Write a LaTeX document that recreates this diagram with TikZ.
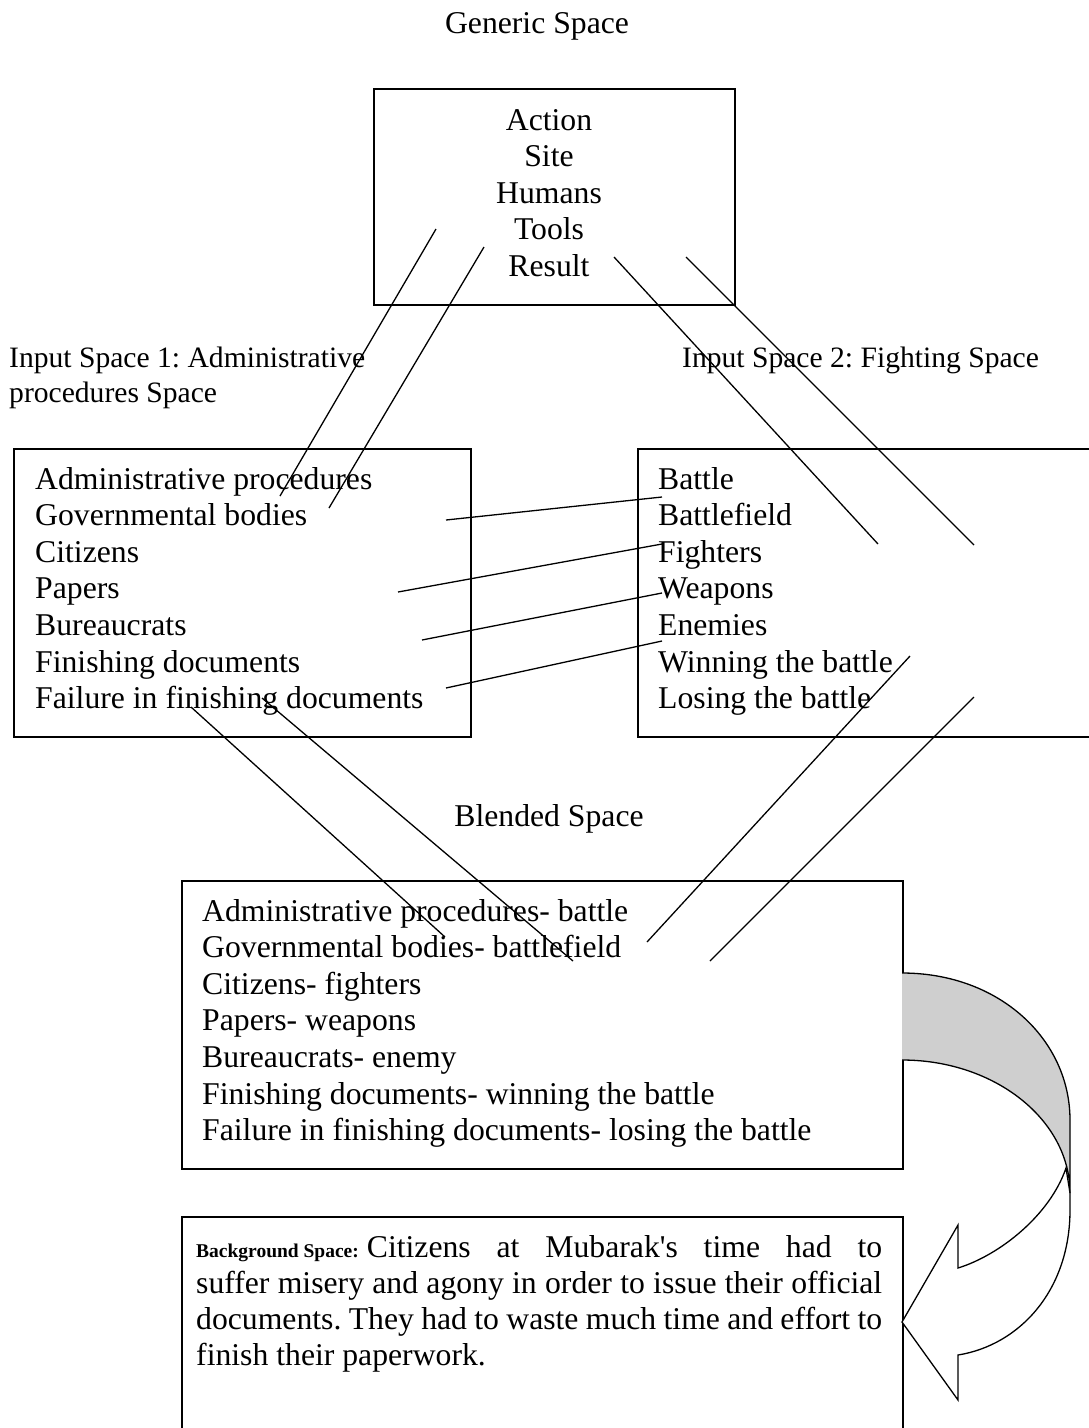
\documentclass[tikz,border=0pt]{standalone}
\usepackage{fontspec}
\setmainfont{Liberation Serif}
\definecolor{backface}{RGB}{207,207,207}
\begin{document}
\frenchspacing
\begin{tikzpicture}[x=1pt,y=-1pt,
  frame/.style={draw, line width=1.8pt, inner sep=0pt, anchor=north west},
  link/.style={line width=1.3pt},
  txt/.style={inner sep=0pt, font=\fontsize{31.7}{36.6}\selectfont},
  label/.style={inner sep=0pt, font=\fontsize{29.6}{35}\selectfont, anchor=base west},
  item/.style={txt, anchor=base west}]
\useasboundingbox (0,0) rectangle (1089,1428);
\fill[white] (0,0) rectangle (1089,1428);

% frames of the five spaces
\node[frame, minimum width=361pt, minimum height=216pt] (generic) at (373,88) {};
\node[frame, minimum width=457pt, minimum height=288pt] (input1) at (13,448) {};
\node[frame, minimum width=460pt, minimum height=288pt] (input2) at (637,448) {};
\node[frame, minimum width=721pt, minimum height=288pt] (blend) at (181,880) {};
\node[frame, minimum width=721pt, minimum height=230pt] (backgr) at (181,1216) {};

% titles
\node[txt, anchor=base] (gentitle) at (537,33) {Generic Space};
\node[label] (in1a) at (9,367) {Input Space 1: Administrative};
\node[label] (in1b) at (9,402) {procedures Space};
\node[label] (in2) at (682,367) {Input Space 2: Fighting Space};
\node[txt, anchor=base] (blendtitle) at (549,826) {Blended Space};

% generic space
\foreach \t [count=\i] in {Action, Site, Humans, Tools, Result}
  \node[txt, anchor=base] (g\i) at (549,{130+36.5*(\i-1)}) {\t};

% input space 1
\foreach \t [count=\i] in {Administrative procedures, Governmental bodies, Citizens,
    Papers, Bureaucrats, Finishing documents, Failure in finishing documents}
  \node[item] (a\i) at (35,{489+36.6*(\i-1)}) {\t};

% input space 2
\foreach \t [count=\i] in {Battle, Battlefield, Fighters, Weapons, Enemies,
    Winning the battle, Losing the battle}
  \node[item] (b\i) at (658,{489+36.6*(\i-1)}) {\t};

% blended space
\foreach \t [count=\i] in {Administrative procedures- battle,
    Governmental bodies- battlefield, Citizens- fighters, Papers- weapons,
    Bureaucrats- enemy, Finishing documents- winning the battle,
    Failure in finishing documents- losing the battle}
  \node[item] (m\i) at (202,{921+36.6*(\i-1)}) {\t};

% background space, justified lines
\node[item] (bg1) at (196,1257) {\makebox[686pt][s]{\mbox{\fontsize{19.5}{20}\selectfont\bfseries Background Space:}\hspace{8pt}Citizens at Mubarak\textquotesingle s time had to}};
\node[item] (bg2) at (196,1293) {\makebox[686pt][s]{suffer misery and agony in order to issue their official}};
\node[item] (bg3) at (196,1329) {\makebox[686pt][s]{documents. They had to waste much time and effort to}};
\node[item] (bg4) at (196,1365) {finish their paperwork.};

% connector end points
\coordinate (p1a) at (436,229); \coordinate (p1b) at (280,496);
\coordinate (p2a) at (484,247); \coordinate (p2b) at (329,508);
\coordinate (p3a) at (614,257); \coordinate (p3b) at (878,544);
\coordinate (p4a) at (686,257); \coordinate (p4b) at (974,545);
\coordinate (p5a) at (446,520); \coordinate (p5b) at (662,497);
\coordinate (p6a) at (398,592); \coordinate (p6b) at (662,544);
\coordinate (p7a) at (422,640); \coordinate (p7b) at (662,593);
\coordinate (p8a) at (446,688); \coordinate (p8b) at (662,641);
\coordinate (p9a) at (910,656); \coordinate (p9b) at (647,942);
\coordinate (p10a) at (974,697); \coordinate (p10b) at (710,961);
\coordinate (p11a) at (191,707); \coordinate (p11b) at (445,937);
\coordinate (p12a) at (262,698); \coordinate (p12b) at (573,961);

\foreach \k in {1,...,12}
  \draw[link] (p\k a) -- (p\k b);

% curved arrow from the blend to the background space
\filldraw[fill=white, line width=1.3pt]
  (1066,1168) -- (1070,1193) -- (1070,1210)
  .. controls (1070,1290) and (1020,1345) .. (958,1355)
  -- (958,1400) -- (902,1322) -- (958,1225) -- (958,1268)
  .. controls (1000,1255) and (1050,1215) .. (1066,1168) -- cycle;
\filldraw[fill=backface, line width=1.3pt]
  (902,973) .. controls (1000,973) and (1070,1040) .. (1070,1120)
  -- (1070,1193) .. controls (1070,1120) and (995,1060) .. (902,1060);
\end{tikzpicture}
\end{document}
